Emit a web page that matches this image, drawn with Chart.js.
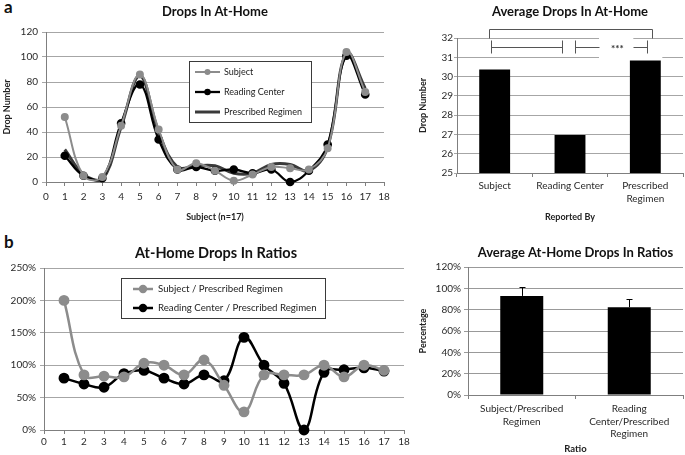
<!DOCTYPE html>
<html><head><meta charset="utf-8">
<script src="https://cdn.jsdelivr.net/npm/chart.js@4.4.1/dist/chart.umd.min.js"></script>
<style>
html,body{margin:0;padding:0;background:#fff;}
body{width:685px;height:455px;position:relative;overflow:hidden;font-family:Lato,"DejaVu Sans",sans-serif;}
canvas{position:absolute;}
.lbl{position:absolute;font:bold 17px Lato,sans-serif;color:#111;line-height:17px;}
</style></head>
<body>
<div class="lbl" style="left:4px;top:-2px">a</div>
<div class="lbl" style="left:4px;top:233px">b</div>
<canvas id="cA" width="410" height="230" style="left:0;top:0"></canvas>
<canvas id="cB" width="275" height="230" style="left:410px;top:0"></canvas>
<canvas id="cC" width="415" height="225" style="left:0;top:230px"></canvas>
<canvas id="cD" width="270" height="225" style="left:415px;top:230px"></canvas>
<script>
// ---------- data ----------
const subjects = [1,2,3,4,5,6,7,8,9,10,11,12,13,14,15,16,17];
const subjectDrops        = [52,5,4,45,86,42,10,15,9,1,6,12,11,10,27,104,72];
const readingCenterDrops  = [21,5,3,47,78,34,10,12,9,10,7,10,0,9,30,101,70];
const prescribedDrops     = [26,6,2,44,85,40,12,13,13,7,7,14,14,9,28,103,75];
const xTickValues = [0,18];
const avgCategories = ['Subject','Reading Center',['Prescribed','Regimen']];
const avgDrops = [30.37, 26.97, 30.83];
const ratioSubjectPR = [200,85,83,82,103,100,85,108,69,28,85,85,85,100,82,100,92];
const ratioReadingPR = [80,71,66,87,92,80,71,85,76,143,100,72,0,89,93,96,91];
const ratioCategories = [['Subject/Prescribed','Regimen'],['Reading','Center/Prescribed','Regimen']];
const avgRatios = [92.9, 82.3];
const avgRatioErrors = [8.2, 7.5];

// ---------- common ----------
Chart.defaults.font.family = 'Lato, "DejaVu Sans", sans-serif';
Chart.defaults.color = '#2a2a2a';
const GRID = '#a6a6a6', AXIS = '#7f7f7f';

const boxTitle = {
  id: 'boxTitle',
  afterDraw(chart, args, o) {
    const {ctx, chartArea} = chart;
    ctx.save();
    ctx.font = 'bold ' + (o.size || 13) + 'px Lato, sans-serif';
    ctx.fillStyle = '#111';
    ctx.textAlign = 'center'; ctx.textBaseline = 'middle';
    const x = (o.x != null) ? o.x : (chartArea.left + chartArea.right) / 2;
    ctx.fillText(o.text, x, o.y);
    ctx.restore();
  }
};

const boxLegend = {
  id: 'boxLegend',
  afterDatasetsDraw(chart, args, o) {
    if (!o || !o.rows) return;
    const ctx = chart.ctx;
    ctx.save();
    ctx.fillStyle = '#fff';
    ctx.fillRect(o.x, o.y, o.w, o.h);
    ctx.strokeStyle = '#3a3a3a'; ctx.lineWidth = 1;
    ctx.strokeRect(o.x + 0.5, o.y + 0.5, o.w, o.h);
    chart.data.datasets.forEach((ds, i) => {
      const yy = o.rows[i];
      ctx.strokeStyle = ds.borderColor; ctx.lineWidth = ds.borderWidth;
      ctx.beginPath(); ctx.moveTo(o.sx0, yy); ctx.lineTo(o.sx1, yy); ctx.stroke();
      if (ds.pointRadius > 0) {
        ctx.fillStyle = ds.pointBackgroundColor;
        ctx.beginPath(); ctx.arc((o.sx0 + o.sx1) / 2, yy, ds.pointRadius, 0, Math.PI * 2); ctx.fill();
      }
      ctx.fillStyle = '#222'; ctx.font = o.font;
      ctx.textAlign = 'left'; ctx.textBaseline = 'middle';
      ctx.fillText(ds.label, o.tx, yy);
    });
    ctx.restore();
  }
};

function toXY(values) { return values.map((v, i) => ({x: subjects[i], y: v})); }

function linearX(height, pad, titleText, titlePad) {
  return {
    type: 'linear', min: xTickValues[0], max: xTickValues[1],
    afterFit(s) { s.height = height; },
    ticks: {stepSize: 1, padding: pad, font: {size: 10}, color: '#2a2a2a'},
    grid: {drawOnChartArea: false, drawTicks: true, tickLength: 4, color: AXIS},
    border: {display: true, color: AXIS},
    title: titleText ? {display: true, text: titleText, font: {size: 9, weight: 'bold'}, padding: {top: 0, bottom: titlePad}, color: '#222'} : {display: false}
  };
}

// ---------- Chart A: Drops In At-Home ----------
new Chart(document.getElementById('cA'), {
  type: 'line',
  data: {
    datasets: [
      {label: 'Subject', data: toXY(subjectDrops), borderColor: '#8c8c8c', backgroundColor: '#8c8c8c',
       pointBackgroundColor: '#8c8c8c', pointBorderColor: '#8c8c8c', borderWidth: 2, pointRadius: 3, tension: 0.4, clip: false},
      {label: 'Reading Center', data: toXY(readingCenterDrops), borderColor: '#000', backgroundColor: '#000',
       pointBackgroundColor: '#000', pointBorderColor: '#000', borderWidth: 2.3, pointRadius: 3.2, tension: 0.4, clip: false},
      {label: 'Prescribed Regimen', data: toXY(prescribedDrops), borderColor: '#3a3a3a', backgroundColor: '#3a3a3a',
       pointBackgroundColor: '#3a3a3a', borderWidth: 3, pointRadius: 0, tension: 0.4, clip: false}
    ]
  },
  options: {
    responsive: false, animation: false, devicePixelRatio: 1,
    layout: {padding: {top: 32, right: 26, left: 0, bottom: 0}},
    plugins: {
      legend: {display: false}, tooltip: {enabled: false},
      boxTitle: {text: 'Drops In At-Home', y: 12},
      boxLegend: {x: 189, y: 61, w: 122, h: 61, rows: [72, 92, 112], sx0: 195, sx1: 220, tx: 224, font: '9px Lato, sans-serif'}
    },
    scales: {
      x: linearX(48, 5, 'Subject (n=17)', 8),
      y: {
        min: 0, max: 120,
        afterFit(s) { s.width = 46; },
        ticks: {stepSize: 20, padding: 4, font: {size: 10}, color: '#2a2a2a'},
        grid: {color: GRID, tickLength: 4},
        border: {display: true, color: AXIS},
        title: {display: true, text: 'Drop Number', font: {size: 9, weight: 'bold'}, padding: {top: 2, bottom: 0}, color: '#222'}
      }
    }
  },
  plugins: [boxTitle, boxLegend]
});

// ---------- Chart B: Average Drops In At-Home ----------
const sigBrackets = {
  id: 'sigBrackets',
  beforeDatasetsDraw(chart) {
    const x = chart.scales.x, y = chart.scales.y, ctx = chart.ctx;
    ctx.save(); ctx.fillStyle = '#fff';
    const l = x.getPixelForValue(1) + 29, r = x.getPixelForValue(2) - 12;
    ctx.fillRect(l, y.getPixelForValue(32.1), r - l, y.getPixelForValue(31.5) - y.getPixelForValue(32.1));
    const r2 = x.getPixelForValue(2) + 17;
    ctx.fillRect(l, y.getPixelForValue(31.5), r2 - l, y.getPixelForValue(30.95) - y.getPixelForValue(31.5));
    ctx.restore();
  },
  afterDraw(chart) {
    const x = chart.scales.x, y = chart.scales.y, ctx = chart.ctx;
    const px = (i, d) => Math.round(x.getPixelForValue(i) + d) + 0.5;
    const py = v => Math.round(y.getPixelForValue(v)) + 0.5;
    ctx.save();
    ctx.strokeStyle = '#555'; ctx.lineWidth = 1;
    const line = (x0, y0, x1, y1) => { ctx.beginPath(); ctx.moveTo(x0, y0); ctx.lineTo(x1, y1); ctx.stroke(); };
    line(px(0, -6), py(32.47), px(2, 7), py(32.47));
    line(px(0, -6), py(32.47), px(0, -6), py(32.0));
    line(px(2, 7), py(32.47), px(2, 7), py(32.0));
    line(px(0, -4), py(31.53), px(1, -8), py(31.53));
    line(px(0, -4), py(31.88), px(0, -4), py(31.2));
    line(px(1, -8), py(31.88), px(1, -8), py(31.2));
    line(px(1, 5), py(31.53), px(1, 29), py(31.53));
    line(px(1, 5), py(31.88), px(1, 5), py(31.2));
    line(px(2, -12), py(31.53), px(2, 2), py(31.53));
    line(px(2, 2), py(31.88), px(2, 2), py(31.2));
    ctx.fillStyle = '#333'; ctx.font = 'bold 10px Lato, sans-serif';
    ctx.textAlign = 'center'; ctx.textBaseline = 'middle';
    ctx.fillText('***', x.getPixelForValue(2) - 28, y.getPixelForValue(31.5) + 1);
    ctx.restore();
  }
};

new Chart(document.getElementById('cB'), {
  type: 'bar',
  data: {
    labels: avgCategories,
    datasets: [{label: 'Average', data: avgDrops, backgroundColor: '#000', borderWidth: 0,
                barPercentage: 0.41, categoryPercentage: 1}]
  },
  options: {
    responsive: false, animation: false, devicePixelRatio: 1,
    layout: {padding: {top: 38, right: 2, left: 0, bottom: 0}},
    plugins: {legend: {display: false}, tooltip: {enabled: false}, boxTitle: {text: 'Average Drops In At-Home', y: 12}},
    scales: {
      x: {
        afterFit(s) { s.height = 57; },
        ticks: {padding: 2, font: {size: 10, lineHeight: 1.3}, color: '#2a2a2a'},
        grid: {offset: true, drawOnChartArea: false, drawTicks: true, tickLength: 4, color: AXIS},
        border: {display: true, color: AXIS},
        title: {display: true, text: 'Reported By', font: {size: 9, weight: 'bold'}, padding: {top: 0, bottom: 7.6}, color: '#222'}
      },
      y: {
        min: 25, max: 32,
        afterFit(s) { s.width = 47; },
        ticks: {stepSize: 1, padding: 1, font: {size: 10}, color: '#2a2a2a'},
        grid: {color: GRID, tickLength: 3},
        border: {display: true, color: AXIS},
        title: {display: true, text: 'Drop Number', font: {size: 9, weight: 'bold'}, padding: {top: 7.6, bottom: 0}, color: '#222'}
      }
    }
  },
  plugins: [boxTitle, sigBrackets]
});

// ---------- Chart C: At-Home Drops In Ratios ----------
new Chart(document.getElementById('cC'), {
  type: 'line',
  data: {
    datasets: [
      {label: 'Subject / Prescribed Regimen', data: toXY(ratioSubjectPR), borderColor: '#8c8c8c', backgroundColor: '#8c8c8c',
       pointBackgroundColor: '#8c8c8c', pointBorderColor: '#8c8c8c', borderWidth: 2.5, pointRadius: 4.2, tension: 0.4, clip: false},
      {label: 'Reading Center / Prescribed Regimen', data: toXY(ratioReadingPR), borderColor: '#000', backgroundColor: '#000',
       pointBackgroundColor: '#000', pointBorderColor: '#000', borderWidth: 2.5, pointRadius: 4.2, tension: 0.4, clip: false}
    ]
  },
  options: {
    responsive: false, animation: false, devicePixelRatio: 1,
    layout: {padding: {top: 38, right: 11, left: 0, bottom: 0}},
    plugins: {
      legend: {display: false}, tooltip: {enabled: false},
      boxTitle: {text: 'At-Home Drops In Ratios', y: 23, x: 216, size: 14.5},
      boxLegend: {x: 121, y: 48, w: 204, h: 40, rows: [59, 78], sx0: 133, sx1: 153, tx: 158, font: '9.7px Lato, sans-serif'}
    },
    scales: {
      x: linearX(25, 2, null, 0),
      y: {
        min: 0, max: 250,
        afterFit(s) { s.width = 44; },
        ticks: {stepSize: 50, padding: 4, font: {size: 10}, color: '#2a2a2a', callback: v => v + '%'},
        grid: {color: GRID, tickLength: 4},
        border: {display: true, color: AXIS}
      }
    }
  },
  plugins: [boxTitle, boxLegend]
});

// ---------- Chart D: Average At-Home Drops In Ratios ----------
const errorBars = {
  id: 'errorBars',
  afterDatasetsDraw(chart) {
    const ctx = chart.ctx, y = chart.scales.y;
    const meta = chart.getDatasetMeta(0);
    ctx.save(); ctx.strokeStyle = '#000'; ctx.lineWidth = 1;
    meta.data.forEach((bar, i) => {
      const cx = Math.round(bar.x) + 0.5;
      const y0 = y.getPixelForValue(avgRatios[i]);
      const y1 = Math.round(y.getPixelForValue(avgRatios[i] + avgRatioErrors[i])) + 0.5;
      ctx.beginPath(); ctx.moveTo(cx, y0); ctx.lineTo(cx, y1); ctx.stroke();
      ctx.beginPath(); ctx.moveTo(cx - 3, y1); ctx.lineTo(cx + 3, y1); ctx.stroke();
    });
    ctx.restore();
  }
};

new Chart(document.getElementById('cD'), {
  type: 'bar',
  data: {
    labels: ratioCategories,
    datasets: [{label: 'Average ratio', data: avgRatios, backgroundColor: '#000', borderWidth: 0,
                barPercentage: 0.4, categoryPercentage: 1}]
  },
  options: {
    responsive: false, animation: false, devicePixelRatio: 1,
    layout: {padding: {top: 37, right: 2, left: 0, bottom: 0}},
    plugins: {legend: {display: false}, tooltip: {enabled: false}, boxTitle: {text: 'Average At-Home Drops In Ratios', y: 23}},
    scales: {
      x: {
        afterFit(s) { s.height = 60; },
        ticks: {padding: 4, font: {size: 10, lineHeight: 1.25}, color: '#2a2a2a'},
        grid: {offset: true, drawOnChartArea: false, drawTicks: true, tickLength: 4, color: AXIS},
        border: {display: true, color: AXIS},
        title: {display: true, text: 'Ratio', font: {size: 9.5, weight: 'bold'}, padding: {top: 0, bottom: 0}, color: '#222'}
      },
      y: {
        min: 0, max: 120,
        afterFit(s) { s.width = 53; },
        ticks: {stepSize: 20, padding: 3, font: {size: 10}, color: '#2a2a2a', callback: v => v + '%'},
        grid: {color: '#999', tickLength: 4},
        border: {display: true, color: AXIS},
        title: {display: true, text: 'Percentage', font: {size: 9, weight: 'bold'}, padding: {top: 2.6, bottom: 0}, color: '#222'}
      }
    }
  },
  plugins: [boxTitle, errorBars]
});
</script>
</body></html>
